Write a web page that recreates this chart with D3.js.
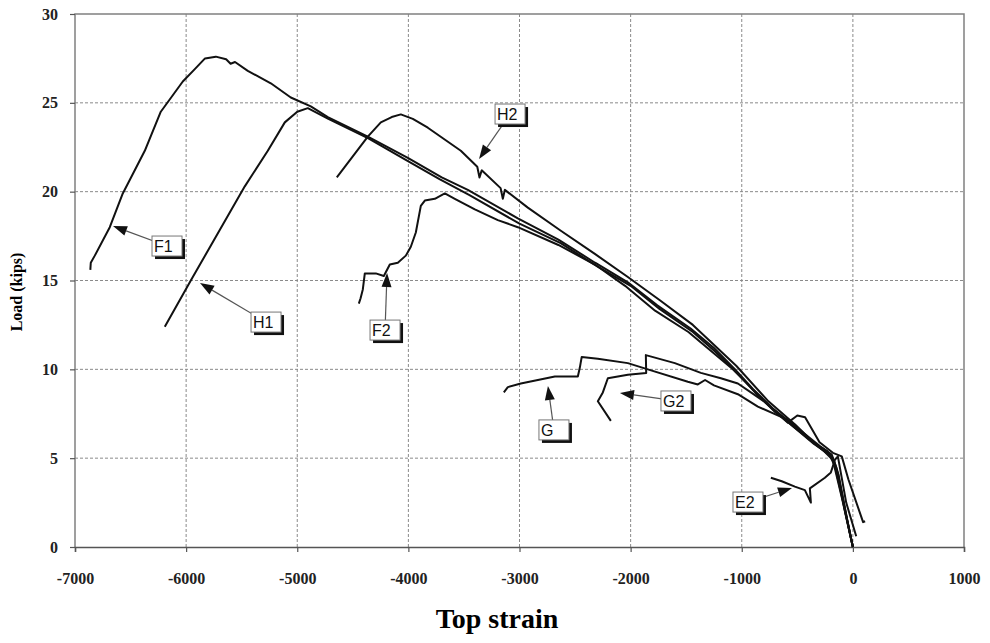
<!DOCTYPE html>
<html>
<head>
<meta charset="utf-8">
<script src="https://cdn.jsdelivr.net/npm/d3@7"></script>
<style>
  body { margin: 0; background: #fff; }
  svg { display: block; }
</style>
</head>
<body>
<svg id="chart" width="990" height="643"></svg>
<script>
// Axis ticks
var xTicks = [-7000, -6000, -5000, -4000, -3000, -2000, -1000, 0, 1000];
var yTicks = [0, 5, 10, 15, 20, 25, 30];

// Curves: [strain, load]
var curveF1 = [[0,0],[-70,2.0],[-150,4.5],[-190,5.2],[-300,5.7],[-480,6.6],[-720,7.8],[-900,8.9],[-1060,10.0],
  [-1250,11.2],[-1460,12.3],[-1760,13.6],[-2025,14.9],[-2320,16.0],[-2650,17.3],[-3015,18.5],[-3465,20.1],
  [-3700,20.8],[-4005,21.9],[-4365,23.1],[-4725,24.2],[-4878,24.8],[-5058,25.3],[-5238,26.1],[-5445,26.8],
  [-5560,27.3],[-5600,27.2],[-5640,27.45],[-5733,27.6],[-5830,27.5],[-5922,26.9],[-6030,26.2],[-6228,24.5],
  [-6372,22.3],[-6570,19.9],[-6687,18.0],[-6822,16.4],[-6858,16.0],[-6862,15.6]];

var curveH1 = [[0,0],[-60,1.8],[-140,4.3],[-180,5.0],[-280,5.5],[-460,6.4],[-700,7.6],[-880,8.7],[-1040,9.8],
  [-1240,11.0],[-1440,12.1],[-1740,13.4],[-2000,14.7],[-2300,15.8],[-2630,17.1],[-3000,18.2],[-3450,19.8],
  [-3720,20.7],[-4000,21.7],[-4360,23.0],[-4720,24.1],[-4905,24.7],[-5000,24.5],[-5112,23.9],[-5265,22.3],
  [-5472,20.3],[-5958,15.0],[-6192,12.4]];

var curveH2 = [[0,0],[-90,2.6],[-170,4.8],[-230,5.4],[-340,5.8],[-520,6.9],[-760,8.2],[-1050,10.2],
  [-1440,12.5],[-1740,13.9],[-2025,15.2],[-2322,16.5],[-2628,17.8],[-2925,19.1],[-3132,20.1],[-3150,19.6],
  [-3170,20.2],[-3340,21.2],[-3360,20.8],[-3380,21.4],[-3528,22.3],[-3825,23.6],[-3960,24.1],[-4068,24.35],
  [-4150,24.2],[-4248,23.9],[-4365,23.1],[-4644,20.8]];

var curveF2 = [[0,0],[-50,1.5],[-130,4.1],[-210,5.2],[-350,5.8],[-540,6.8],[-780,8.1],[-1080,10.0],
  [-1480,12.1],[-1780,13.3],[-2050,14.7],[-2322,15.9],[-2650,17.0],[-3015,18.0],[-3195,18.4],[-3402,19.0],
  [-3582,19.6],[-3672,19.9],[-3762,19.6],[-3852,19.5],[-3888,19.2],[-3933,17.7],[-3978,16.9],[-4023,16.4],
  [-4095,16.0],[-4167,15.9],[-4221,15.25],[-4293,15.4],[-4392,15.4],[-4410,14.5],[-4430,14.0],[-4446,13.7]];

var curveG = [[0,0],[-100,2.8],[-180,4.9],[-260,5.4],[-400,6.1],[-600,7.2],[-855,7.9],[-1035,8.6],
  [-1250,9.1],[-1330,9.4],[-1395,9.15],[-1485,9.3],[-1845,10.0],[-2025,10.35],[-2295,10.6],[-2440,10.7],
  [-2457,10.1],[-2475,9.6],[-2682,9.6],[-2835,9.4],[-2988,9.2],[-3105,9.0],[-3141,8.7]];

var curveG2 = [[110,1.45],[92,1.4],[-40,3.8],[-100,5.1],[-180,5.3],[-300,5.9],[-430,7.3],[-500,7.4],
  [-585,7.0],[-800,8.2],[-1035,9.2],[-1188,9.5],[-1368,9.8],[-1602,10.35],[-1863,10.8],[-1860,9.8],
  [-2025,9.7],[-2205,9.5],[-2250,8.7],[-2295,8.2],[-2178,7.1]];

var curveE2 = [[30,0.6],[-60,2.5],[-135,5.1],[-162,4.9],[-198,4.2],[-252,3.9],[-387,3.3],[-378,2.5],
  [-432,3.2],[-522,3.4],[-640,3.7],[-738,3.9]];

var curves = [curveF1, curveH1, curveH2, curveF2, curveG, curveG2, curveE2];

// Callout labels: name, box centre [strain, load], arrow tip [strain, load]
var labelNames = ['F1', 'H1', 'H2', 'F2', 'G', 'G2', 'E2'];
var labelBoxes = [[-6172,16.94],[-5281,12.66],[-3085,24.37],[-4210,12.21],[-2690,6.59],[-1592,8.22],[-944,2.53]];
var labelTips = [[-6658,18.07],[-5875,14.86],[-3364,21.84],[-4192,15.42],[-2744,9.06],[-2096,8.67],[-548,3.32]];

var svg = d3.select('#chart');
var x = d3.scaleLinear().domain([-7000, 1000]).range([75, 964]);
var y = d3.scaleLinear().domain([0, 30]).range([547, 14]);

svg.append('rect').attr('width', 990).attr('height', 643).attr('fill', '#fff');

// grid
svg.append('g').selectAll('line').data(xTicks.slice(1, -1)).join('line')
  .attr('x1', d => x(d)).attr('x2', d => x(d)).attr('y1', y(30)).attr('y2', y(0))
  .attr('stroke', '#8a8a8a').attr('stroke-width', 1).attr('stroke-dasharray', '3,2');
svg.append('g').selectAll('line').data(yTicks.slice(1, -1)).join('line')
  .attr('x1', x(-7000)).attr('x2', x(1000)).attr('y1', d => y(d)).attr('y2', d => y(d))
  .attr('stroke', '#8a8a8a').attr('stroke-width', 1).attr('stroke-dasharray', '3,2');

// frame
svg.append('path')
  .attr('d', 'M' + x(-7000) + ',' + y(0) + 'V' + y(30) + 'H' + x(1000) + 'V' + y(0))
  .attr('fill', 'none').attr('stroke', '#808080').attr('stroke-width', 1.5);

// axes (plain hyphen for negatives, as in the scan)
var fmt = function(d) { return String(d); };
var xAxis = svg.append('g').attr('transform', 'translate(0,' + y(0) + ')')
  .call(d3.axisBottom(x).tickValues(xTicks).tickSize(5).tickPadding(21).tickFormat(fmt));
var yAxis = svg.append('g').attr('transform', 'translate(' + x(-7000) + ',0)')
  .call(d3.axisLeft(y).tickValues(yTicks).tickSize(5).tickPadding(12).tickFormat(fmt));
[xAxis, yAxis].forEach(function(a) {
  a.select('.domain').attr('stroke', '#555').attr('stroke-width', 1.5);
  a.selectAll('.tick line').attr('stroke', '#555').attr('stroke-width', 1.2);
  a.selectAll('text').attr('font-family', '"Liberation Serif", serif').attr('font-size', 16)
    .attr('font-weight', 'bold').attr('fill', '#222');
});
yAxis.select('.domain').remove();

// curves
var line = d3.line().x(d => x(d[0])).y(d => y(d[1]));
svg.append('g').selectAll('path').data(curves).join('path')
  .attr('d', line).attr('fill', 'none').attr('stroke', '#111')
  .attr('stroke-width', 2).attr('stroke-linejoin', 'round');

// callouts
var bw = 30, bh = 20;
labelNames.forEach(function(name, i) {
  var cx = x(labelBoxes[i][0]), cy = y(labelBoxes[i][1]);
  var tx = x(labelTips[i][0]), ty = y(labelTips[i][1]);
  var g = svg.append('g');
  var ang = Math.atan2(ty - cy, tx - cx);
  var hl = 14, hw = 5;
  var bx = tx - hl * Math.cos(ang), by = ty - hl * Math.sin(ang);
  g.append('line').attr('x1', cx).attr('y1', cy).attr('x2', bx).attr('y2', by)
    .attr('stroke', '#555').attr('stroke-width', 1.2);
  g.append('path')
    .attr('d', 'M' + tx + ',' + ty +
      'L' + (bx + hw * Math.sin(ang)) + ',' + (by - hw * Math.cos(ang)) +
      'L' + (bx - hw * Math.sin(ang)) + ',' + (by + hw * Math.cos(ang)) + 'Z')
    .attr('fill', '#111');
  g.append('rect').attr('x', cx - bw / 2 + 3).attr('y', cy - bh / 2 + 3)
    .attr('width', bw).attr('height', bh).attr('fill', '#111');
  g.append('rect').attr('x', cx - bw / 2).attr('y', cy - bh / 2)
    .attr('width', bw).attr('height', bh).attr('fill', '#fff')
    .attr('stroke', '#777').attr('stroke-width', 1);
  g.append('text').attr('x', cx - bw / 2 + 2).attr('y', cy + 6)
    .attr('font-family', '"Liberation Sans", Arial, sans-serif').attr('font-size', 16)
    .attr('fill', '#111').text(name);
});

// titles
svg.append('text').attr('x', 497).attr('y', 628).attr('text-anchor', 'middle')
  .attr('font-family', '"Liberation Serif", serif').attr('font-weight', 'bold')
  .attr('font-size', 28).attr('fill', '#000').text('Top strain');
svg.append('text').attr('transform', 'translate(22,292) rotate(-90)').attr('text-anchor', 'middle')
  .attr('font-family', '"Liberation Serif", serif').attr('font-weight', 'bold')
  .attr('font-size', 16).attr('fill', '#000').text('Load (kips)');
</script>
</body>
</html>
